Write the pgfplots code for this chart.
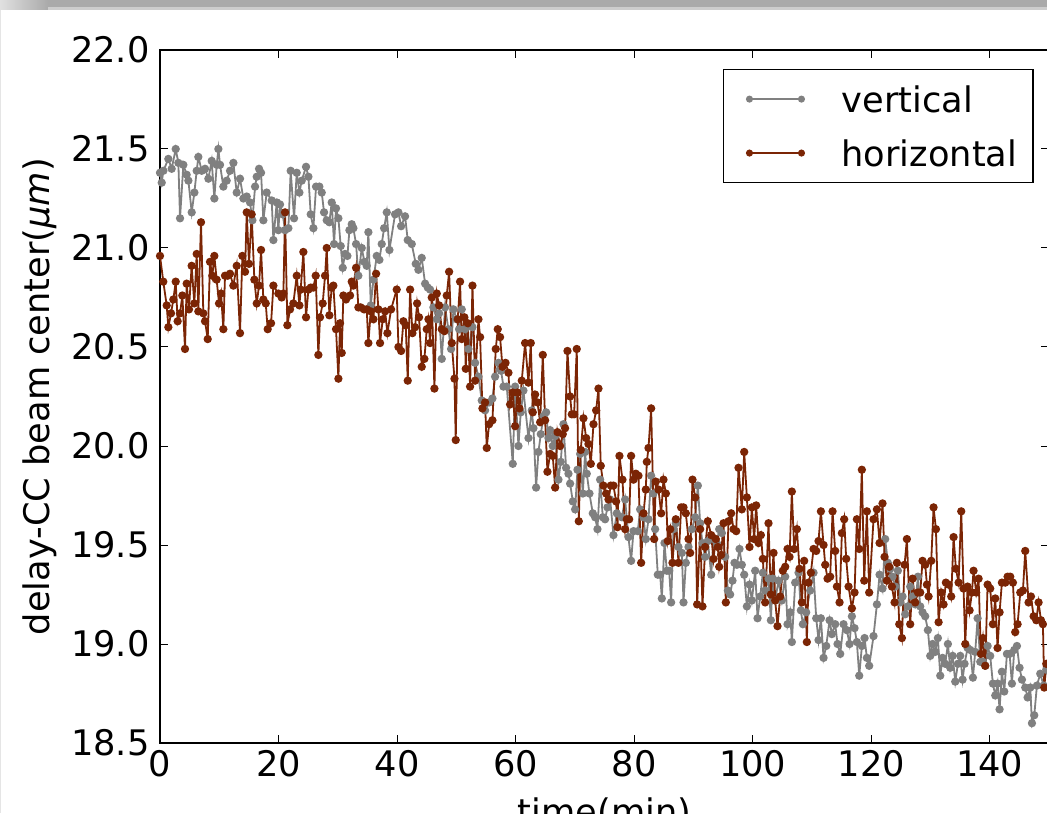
\documentclass[border=0pt]{standalone}
\usepackage{fontspec}
\setmainfont{DejaVu Sans}
\usepackage{pgfplots}
\pgfplotsset{compat=1.18}
\definecolor{vgray}{HTML}{808080}
\definecolor{hbrown}{HTML}{7B2505}
\definecolor{bandgray}{HTML}{AAAAAA}
\definecolor{bandlight}{HTML}{CDCDCD}
\newcommand{\chartfont}{\fontsize{17.6}{21}\selectfont}
\begin{document}
\begin{tikzpicture}
\begin{axis}[
  name=ax, scale only axis, width=444.5pt, height=346.5pt,
  xmin=0, xmax=150, ymin=18.5, ymax=22,
  xtick={0,20,40,60,80,100,120,140},
  ytick={18.5,19.0,19.5,20.0,20.5,21.0,21.5,22.0},
  tick align=inside, major tick length=4pt,
  every tick/.style={black, line width=0.5pt},
  axis line style={black, line width=0.75pt},
  /pgf/number format/assume math mode=true,
  yticklabel style={/pgf/number format/fixed,/pgf/number format/fixed zerofill,/pgf/number format/precision=1, inner sep=0pt, xshift=-5pt},
  xticklabel style={inner sep=0pt, yshift=-3.5pt},
  tick label style={font=\chartfont},
  every axis x label/.style={at={(axis description cs:0.5,0)}, anchor=north, yshift=-27pt, inner sep=0pt, font=\chartfont},
  every axis y label/.style={at={(axis description cs:-0.135,0.5)}, anchor=center, rotate=90, inner sep=0pt, font=\chartfont},
  xlabel={time(min)},
  ylabel={delay-CC beam center(\textit{μm})},
  legend style={at={(0.983,0.9726)}, anchor=north east, draw=black, line width=0.75pt, fill=white, inner xsep=8pt, inner ysep=8pt, font=\chartfont, nodes={inner sep=0pt, text depth=0pt}, row sep=13.6pt, column sep=18.75pt, cells={anchor=west}},
  legend image code/.code={\path (0pt,0pt); \draw[#1, mark size=1.3pt] plot coordinates {(4.5pt,0pt) (30.5pt,0pt)};},
]
\addplot[color=vgray, line width=0.9pt, mark=*, mark size=1.6pt, mark options={solid, fill=vgray, draw=vgray}] coordinates {
(0,21.38)(0.29,21.33)(0.57,21.39)(1.41,21.45)(1.97,21.40)(2.65,21.50)(3.10,21.43)(3.38,21.15)(3.94,21.42)(4.50,21.37)(4.79,21.34)(5.35,21.18)(5.80,21.28)(6.19,21.39)(6.47,21.46)(7.04,21.39)(7.60,21.40)(8.16,21.35)(8.72,21.44)(9.17,21.25)(9.57,21.42)(9.85,21.50)(10.13,21.42)(10.69,21.31)(11.25,21.34)(11.82,21.39)(12.38,21.43)(12.94,21.28)(13.50,21.35)(14.07,21.25)(14.63,21.26)(15.19,21.23)(15.59,21.14)(16.04,21.31)(16.32,21.36)(16.71,21.40)(17.05,21.38)(17.44,21.14)(18.00,21.28)(18.85,21.24)(19.13,21.04)
(19.69,21.23)(19.97,21.09)(20.25,21.22)(20.70,21.17)(21.10,21.09)(21.66,21.10)(22.05,21.39)(22.62,21.15)(23.07,21.38)(23.52,21.28)(23.91,21.34)(24.64,21.41)(25.04,21.36)(25.43,21.17)(25.88,21.10)(26.33,21.31)(26.89,21.31)(27.29,21.28)(27.68,21.18)(28.13,21.14)(28.58,21.13)(28.97,21.23)(29.37,21.02)(29.70,21.20)(30.10,21.15)(30.49,21.01)(30.83,20.90)(31.22,20.97)(31.62,20.96)(31.96,21.09)(32.35,21.12)(32.63,21.10)(33.08,21.02)(33.47,20.86)(34.04,21.00)(34.49,20.93)(34.88,20.91)(35.16,21.08)(35.56,20.71)(36.01,20.84)(36.57,20.96)(37.02,20.94)(37.41,21.02)(37.81,21.10)(38.26,21.18)(38.71,20.99)
(39.66,21.17)(40.23,21.18)(40.68,21.11)(41.35,21.16)(41.80,21.04)(42.48,21.02)(43.15,20.92)(43.60,20.89)(44.16,20.95)(44.73,20.82)(45.18,20.80)(45.57,20.79)(46.13,20.70)(46.70,20.64)(47.09,20.67)(47.54,20.44)(48.10,20.70)(48.66,20.59)(49.11,20.49)(49.51,20.69)(50.07,20.64)(50.46,20.59)(50.91,20.69)(51.48,20.59)(52.04,20.49)(52.72,20.60)(53.17,20.42)(53.73,20.35)(54.29,20.23)(54.85,20.18)(55.53,20.22)(56.09,20.24)(56.54,20.35)(57.10,20.42)(57.55,20.38)(57.95,20.30)
(58.51,20.30)(59.52,19.91)(59.92,20.30)(60.48,20.00)(60.87,20.17)(61.32,20.28)(62.17,20.04)(62.73,20.18)(63.01,20.09)(63.46,19.79)(63.85,19.97)(64.25,20.06)(64.70,20.15)(65.15,20.17)(65.54,20.04)(65.82,20.08)(66.27,20.00)(66.67,20.05)(67.23,19.83)(67.62,19.92)(68.07,20.11)(68.52,19.89)(68.92,19.86)(69.20,19.81)(69.65,19.72)(70.04,19.68)(70.44,19.88)(70.89,19.96)(71.34,19.76)(71.73,19.97)(72.01,19.86)(72.46,19.76)(73.02,19.66)(73.42,19.64)(73.81,19.58)(74.26,19.83)(74.71,19.64)(75.10,19.63)(75.50,19.69)(75.95,19.73)(76.51,19.55)(77.07,19.66)
(77.92,19.64)(78.48,19.73)(79.04,19.54)(79.49,19.42)(79.89,19.57)(80.62,19.57)(81.01,19.68)(81.58,19.64)(81.97,19.53)(82.42,19.63)(82.87,19.85)(83.26,19.76)(83.54,19.58)(83.99,19.35)(84.39,19.35)(84.67,19.23)(85.12,19.51)(85.51,19.37)(85.91,19.37)(86.24,19.21)(86.64,19.58)(87.03,19.61)(87.48,19.49)(88.05,19.46)(88.33,19.21)(88.72,19.41)(89.17,19.49)(89.73,19.58)(90.30,19.64)(90.75,19.80)(91.14,19.61)(91.53,19.51)(91.98,19.44)(92.43,19.52)(93.00,19.35)(93.39,19.53)(93.95,19.51)(94.35,19.58)(94.80,19.56)(95.36,19.44)(95.81,19.27)(96.20,19.25)(96.60,19.32)(96.93,19.41)
(97.33,19.40)(97.78,19.48)(98.17,19.40)(98.57,19.35)(99.02,19.19)(99.47,19.30)(99.86,19.22)(100.42,19.37)(100.82,19.13)(101.27,19.24)(101.72,19.36)(102.11,19.27)(102.67,19.33)(103.07,19.12)(103.40,19.33)(103.80,19.22)(104.36,19.32)(104.92,19.22)(105.49,19.34)(105.88,19.10)(106.33,19.16)(106.61,19.01)(107.17,19.31)(107.74,19.36)(108.13,19.17)(108.47,19.10)(109.03,19.16)(109.71,19.27)(110.27,19.36)(110.72,19.13)(111.11,19.02)(111.51,19.13)(111.96,18.93)(112.41,18.99)(112.97,19.12)(113.36,19.05)(113.92,19.10)(114.32,19.00)(114.77,18.95)(115.33,19.10)(115.89,19.07)(116.34,19.00)
(116.74,19.14)(117.19,19.08)(117.58,19.01)(117.98,18.84)(118.43,18.99)(118.88,19.03)(119.27,18.93)(119.66,18.89)(120.39,19.04)(120.96,19.20)(121.41,19.35)(121.91,19.28)(122.36,19.53)(122.81,19.41)(123.21,19.38)(123.60,19.34)(124.05,19.29)(124.50,19.37)(124.89,19.21)(125.29,19.24)(125.74,19.15)(126.19,19.19)(126.58,19.29)(126.98,19.24)(127.43,19.20)(127.88,19.34)(128.27,19.19)(128.66,19.16)(129.11,19.14)(129.56,19.07)(129.96,18.94)(130.35,19.00)(130.80,18.96)(131.25,19.03)(131.65,18.84)(132.04,18.93)(132.49,18.90)(132.94,19.00)(133.33,18.88)(133.73,18.94)(134.18,18.81)(134.63,18.90)(135.02,18.94)(135.42,18.82)(135.75,18.90)
(136.26,18.98)(136.71,18.97)(137.16,18.83)(137.55,18.96)(137.95,19.13)(138.40,18.91)(138.85,18.91)(139.24,18.89)(139.64,18.99)(140.08,18.94)(140.53,18.80)(140.93,18.74)(141.32,18.80)(141.66,18.67)(142.05,18.86)(142.45,18.76)(142.90,18.95)(143.35,18.95)(143.74,18.80)(144.14,18.97)(144.59,18.99)(145.03,18.88)(145.43,18.82)(145.99,18.78)(146.39,18.73)(146.84,18.78)(147.12,18.60)(147.51,18.64)(147.96,18.79)(148.52,18.85)(149.09,18.79)(149.54,18.87)
};
\addlegendentry{vertical}
\addplot[color=hbrown, line width=0.9pt, mark=*, mark size=1.6pt, mark options={solid, fill=hbrown, draw=hbrown}] coordinates {
(0,20.96)(0.56,20.83)(1.13,20.71)(1.41,20.60)(1.86,20.67)(2.25,20.74)(2.65,20.83)(2.98,20.63)(3.38,20.67)(3.77,20.76)(4.22,20.49)(4.50,20.82)(4.89,20.69)(5.34,20.91)(5.79,20.72)(6.19,20.97)(6.47,20.68)(6.92,21.13)(7.31,20.67)(7.60,20.63)(8.05,20.54)(8.44,20.93)(8.83,20.86)(9.17,20.96)(9.56,20.84)(9.96,20.72)(10.30,20.77)(10.69,20.59)(10.97,20.86)(11.42,20.86)(11.81,20.87)(12.38,20.81)(12.94,20.91)(13.50,20.57)(13.90,20.96)(14.35,20.88)(14.63,21.18)(15.02,20.92)(15.47,21.17)(15.92,20.84)(16.32,20.72)(16.71,20.81)(17.05,20.99)(17.44,20.74)(17.84,20.72)(18.17,20.59)(18.74,20.62)(19.13,20.81)
(19.97,20.77)(20.53,20.75)(20.82,20.77)(21.10,21.18)(21.49,20.61)(21.94,20.69)(22.50,20.72)(23.07,20.86)(23.52,20.71)(23.74,20.79)(24.19,20.98)(24.64,20.65)(25.04,20.79)(25.43,20.80)(25.88,20.80)(26.27,20.86)(26.72,20.46)(27.00,20.65)(27.45,20.72)(27.85,20.86)(28.13,21.00)(28.58,20.66)(28.97,20.80)(29.25,20.81)(29.70,20.59)(30.10,20.34)(30.38,20.62)(30.66,20.47)(30.94,20.76)(31.39,20.74)(32.07,20.76)(32.35,20.83)(32.63,20.81)(33.08,20.90)(33.47,20.70)(33.87,20.70)(34.43,20.69)(34.88,20.69)(35.16,20.52)(35.56,20.68)(36.01,20.64)(36.46,20.87)(36.85,20.69)(37.13,20.52)(37.58,20.64)(37.98,20.68)(38.37,20.57)
(38.99,20.69)(39.94,20.79)(40.23,20.50)(40.68,20.48)(41.07,20.63)(41.46,20.61)(41.80,20.33)(42.20,20.79)(42.59,20.57)(43.04,20.60)(43.38,20.72)(43.71,20.65)(44.16,20.40)(44.61,20.44)(45.01,20.59)(45.29,20.64)(45.57,20.52)(45.85,20.75)(46.30,20.29)(46.70,20.77)(47.09,20.71)(47.54,20.59)(47.99,20.58)(48.38,20.76)(48.78,20.88)(49.23,20.52)(49.68,20.34)(49.90,20.03)(50.24,20.64)(50.63,20.83)(50.91,20.54)(51.36,20.65)(51.59,20.39)(51.93,20.62)(52.32,20.30)(52.72,20.81)(53.17,20.33)(53.73,20.64)(54.01,20.55)(54.40,20.19)(54.85,20.22)(55.13,19.99)(55.53,20.11)(56.09,20.13)(56.65,20.49)(56.99,20.59)(57.38,20.55)(57.78,20.40)
(58.30,20.42)(58.79,20.37)(59.07,20.21)(59.52,20.27)(59.92,20.10)(60.31,20.27)(60.65,20.19)(61.04,20.33)(61.60,20.52)(62.17,20.32)(62.56,20.52)(62.90,20.17)(63.29,20.26)(63.69,20.22)(64.14,20.12)(64.59,20.46)(64.98,20.13)(65.37,19.87)(65.82,19.96)(66.27,19.95)(66.67,19.79)(67.06,20.07)(67.51,20.00)(67.96,20.06)(68.35,20.09)(68.75,20.48)(69.20,20.25)(69.48,20.16)(69.87,20.16)(70.32,20.49)(70.66,19.62)(70.99,19.98)(71.45,20.14)(71.90,20.04)(72.29,20.01)(72.69,19.91)(73.14,20.11)(73.59,20.18)(73.98,20.29)(74.37,19.90)(74.82,19.80)(75.27,19.76)(75.67,19.73)(76.06,19.80)(76.51,19.80)(76.96,19.72)(77.19,19.59)(77.52,19.95)
(78.03,19.83)(78.48,19.58)(78.76,19.63)(79.16,19.63)(79.49,19.95)(79.89,19.83)(80.28,19.86)(80.73,19.85)(81.18,19.41)(81.58,19.66)(81.97,19.78)(82.14,19.92)(82.42,19.99)(82.87,20.19)(83.38,19.53)(83.66,19.82)(84.11,19.78)(84.56,19.66)(84.95,19.83)(85.35,19.76)(85.68,19.52)(86.08,19.58)(86.47,19.41)(87.03,19.63)(87.48,19.41)(87.93,19.69)(88.33,19.69)(88.72,19.66)(89.17,19.53)(89.45,19.46)(89.85,19.83)(90.30,19.74)(90.63,19.20)(91.14,19.58)(91.53,19.19)(91.98,19.49)(92.43,19.62)(93.00,19.55)(93.39,19.43)(93.78,19.53)(94.12,19.49)(94.35,19.39)(94.68,19.45)(95.08,19.61)(95.47,19.21)(95.92,19.62)(96.37,19.66)(96.77,19.58)
(97.22,19.57)(97.61,19.89)(98.17,19.68)(98.57,19.97)(99.02,19.74)(99.47,19.49)(99.86,19.69)(100.25,19.53)(100.59,19.70)(100.99,19.51)(101.38,19.55)(101.72,19.43)(102.11,19.21)(102.67,19.61)(103.07,19.25)(103.52,19.46)(103.80,19.22)(104.19,19.09)(104.64,19.24)(105.09,19.37)(105.49,19.39)(105.88,19.48)(106.22,19.44)(106.61,19.77)(107.00,19.48)(107.46,19.58)(107.90,19.38)(108.30,19.21)(108.69,19.42)(109.14,19.01)(109.42,19.31)(109.82,19.36)(110.27,19.48)(110.72,19.47)(111.11,19.52)(111.51,19.67)(111.96,19.50)(112.24,19.40)(112.63,19.33)(113.08,19.34)(113.48,19.67)(113.92,19.47)(114.21,19.29)(114.66,19.21)(115.05,19.56)(115.44,19.63)(115.78,19.43)(116.18,19.29)
(116.74,19.18)(117.19,19.26)(117.58,19.63)(117.98,19.48)(118.42,19.88)(118.82,19.32)(119.27,19.67)(119.66,19.26)(120.39,19.63)(120.96,19.68)(121.41,19.51)(121.91,19.71)(122.25,19.44)(122.64,19.32)(123.04,19.39)(123.49,19.29)(123.94,19.21)(124.33,19.41)(124.73,19.10)(125.18,19.03)(125.63,19.40)(126.02,19.53)(126.58,19.10)(126.98,19.33)(127.43,19.21)(127.88,19.26)(128.27,19.26)(128.66,19.42)(129.11,19.40)(129.40,19.30)(129.68,19.24)(130.13,19.42)(130.52,19.69)(130.92,19.58)(131.37,19.11)(131.81,19.26)(132.21,19.20)(132.60,19.31)(133.05,19.30)(133.50,19.24)(133.90,19.54)(134.29,19.38)(134.74,19.31)(135.19,19.67)(135.58,19.28)(135.87,19.00)
(136.26,19.29)(136.60,19.17)(136.99,19.26)(137.27,19.37)(137.72,19.26)(138.12,19.33)(138.51,18.95)(138.85,19.03)(139.24,18.89)(139.64,19.30)(140.08,19.28)(140.53,19.10)(140.93,19.23)(141.32,18.98)(141.66,19.16)(142.05,19.31)(142.62,19.31)(143.01,19.34)(143.46,19.34)(143.91,19.31)(144.30,19.06)(144.70,19.10)(145.15,19.26)(145.60,19.27)(145.99,19.47)(146.55,19.21)(146.95,19.24)(147.40,19.14)(147.85,19.12)(148.24,19.21)(148.64,19.12)(148.97,19.10)(149.20,18.78)(149.54,18.90)
};
\addlegendentry{horizontal}
\end{axis}
\fill[bandgray] ([xshift=-80pt,yshift=25pt]ax.north west) rectangle ([xshift=443.5pt,yshift=21.5pt]ax.north west);
\fill[bandlight] ([xshift=-80pt,yshift=21.5pt]ax.north west) rectangle ([xshift=443.5pt,yshift=20pt]ax.north west);
\shade[left color=white!88!black, right color=bandgray] ([xshift=-80pt,yshift=25pt]ax.north west) rectangle ([xshift=-56pt,yshift=20pt]ax.north west);
\fill[white!90!black] ([xshift=-80pt,yshift=20pt]ax.north west) rectangle ([xshift=-79.5pt,yshift=-35pt]ax.south west);
\pgfresetboundingbox
\path[use as bounding box] ([xshift=-80pt,yshift=-35pt]ax.south west) rectangle ([xshift=443.5pt,yshift=25pt]ax.north west);
\end{tikzpicture}
\end{document}
